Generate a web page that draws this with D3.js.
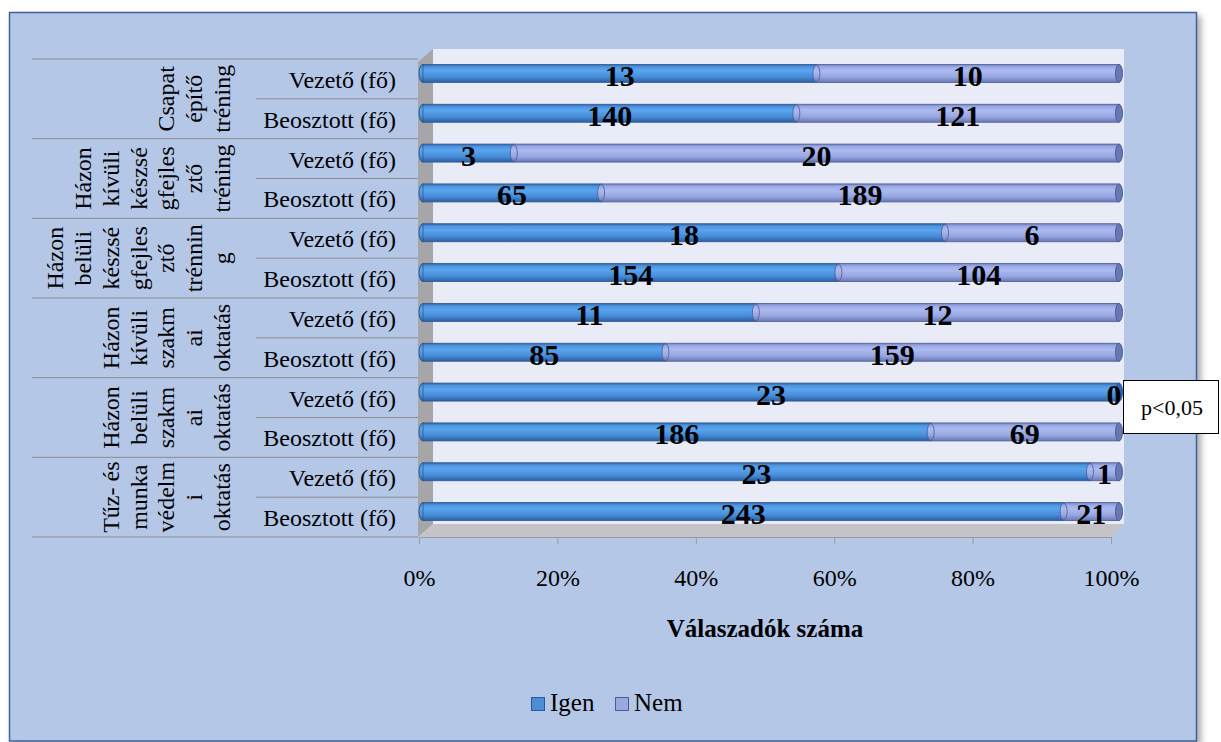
<!DOCTYPE html>
<html>
<head>
<meta charset="utf-8">
<script src="https://cdn.jsdelivr.net/npm/d3@7"></script>
<style>
  body { margin: 0; background: #fff; }
  svg text { font-family: "Liberation Serif", "Times New Roman", serif; fill: #000; }
</style>
</head>
<body>
<div id="chart"></div>
<script>
// categories (top to bottom), each wrapped the way the original shows them
const categories = [
    ["Csapat", "építő", "tréning"],
    ["Házon", "kívüli", "készsé", "gfejles", "ztő", "tréning"],
    ["Házon", "belüli", "készsé", "gfejles", "ztő", "trénnin", "g"],
    ["Házon", "kívüli", "szakm", "ai", "oktatás"],
    ["Házon", "belüli", "szakm", "ai", "oktatás"],
    ["Tűz- és", "munka", "védelm", "i", "oktatás"]
];
const groups = ["Vezető (fő)", "Beosztott (fő)"];

// values per category: [Vezető, Beosztott]
const igen = [[13, 140], [3, 65], [18, 154], [11, 85], [23, 186], [23, 243]];
const nem = [[10, 121], [20, 189], [6, 104], [12, 159], [0, 69], [1, 21]];

const ticks = [0, 0.2, 0.4, 0.6, 0.8, 1];
const seriesNames = ["Igen", "Nem"];

const W = 1221, H = 742;
const serif = "Liberation Serif, Times New Roman, serif";

// flatten to rows
const rows = [];
categories.forEach((c, ci) => {
    groups.forEach((g, gi) => {
        rows.push({ id: ci + "-" + gi, cat: ci, group: g, igen: igen[ci][gi], nem: nem[ci][gi] });
    });
});

const svg = d3.select("#chart").append("svg")
    .attr("width", W)
    .attr("height", H)
    .attr("font-family", serif);

const defs = svg.append("defs");
const shadow = defs.append("filter").attr("id", "shadow")
    .attr("x", "-5%").attr("y", "-5%").attr("width", "110%").attr("height", "110%");
shadow.append("feDropShadow")
    .attr("dx", 4).attr("dy", 4).attr("stdDeviation", 3)
    .attr("flood-color", "#777").attr("flood-opacity", 0.6);

function cylGrad(id, stops) {
    const gr = defs.append("linearGradient").attr("id", id)
        .attr("x1", 0).attr("y1", 0).attr("x2", 0).attr("y2", 1);
    stops.forEach(s => gr.append("stop").attr("offset", s[0]).attr("stop-color", s[1]));
}
cylGrad("gIgen", [[0, "#2f66ad"], [0.15, "#4f97e0"], [0.35, "#5aa5ee"], [0.7, "#478cd6"], [1, "#2b5ea3"]]);
cylGrad("gNem", [[0, "#7484c2"], [0.15, "#9cabe6"], [0.35, "#adbaf0"], [0.7, "#97a6e0"], [1, "#6777b3"]]);

const colors = { Igen: "url(#gIgen)", Nem: "url(#gNem)" };
const legendColors = { Igen: "#4a8fd6", Nem: "#9aaade" };
const strokes = { Igen: "#2d5893", Nem: "#4d5c96" };

// outer frame
svg.append("rect")
    .attr("x", 9.5).attr("y", 12.5)
    .attr("width", 1187).attr("height", 728.5)
    .attr("fill", "#b4c7e7")
    .attr("stroke", "#41629b")
    .attr("stroke-width", 1.5)
    .attr("filter", "url(#shadow)");

// scales
const x = d3.scaleLinear().domain([0, 1]).range([419, 1111]);
const xb = d3.scaleLinear().domain([0, 1]).range([423, 1119]);
const y = d3.scaleBand().domain(rows.map(d => d.id)).range([59, 537]);
const bh = 18;
const barY = d => y(d.id) + y.bandwidth() / 2 - 5.5;

// 3d plot box: back, wall, floor
svg.append("rect")
    .attr("x", 433).attr("y", 49)
    .attr("width", 691).attr("height", 475)
    .attr("fill", "#e9ebf6");
svg.append("path")
    .attr("d", "M418,62 L433,49 L433,524 L418,537 Z")
    .attr("fill", "#a6a6a8");
svg.append("path")
    .attr("d", "M418,537 L1111,537 L1124,524 L433,524 Z")
    .attr("fill", "#c3c3c8");

// X axis
const xAxis = svg.append("g")
    .attr("transform", "translate(0,537)")
    .call(d3.axisBottom(x).tickValues(ticks).tickSize(7).tickPadding(25)
        .tickFormat(d3.format(".0%")))
    .attr("font-family", serif)
    .attr("font-size", 24);
xAxis.select(".domain").attr("stroke", "#9a9a9a");
xAxis.selectAll(".tick line").attr("stroke", "#9a9a9a");
xAxis.selectAll(".tick text").attr("fill", "#000");

svg.append("text")
    .attr("x", 765).attr("y", 637)
    .attr("text-anchor", "middle")
    .attr("font-size", 25)
    .attr("font-weight", "bold")
    .text("Válaszadók száma");

// category label grid
const lbl = svg.append("g");
lbl.selectAll(".catline")
    .data(d3.range(categories.length + 1))
    .enter().append("line")
    .attr("x1", 32).attr("x2", 418)
    .attr("y1", i => i < categories.length ? y(i + "-0") : 537)
    .attr("y2", i => i < categories.length ? y(i + "-0") : 537)
    .attr("stroke", "#8c8c8c");
lbl.selectAll(".subline")
    .data(d3.range(categories.length))
    .enter().append("line")
    .attr("x1", 256).attr("x2", 418)
    .attr("y1", i => y(i + "-1"))
    .attr("y2", i => y(i + "-1"))
    .attr("stroke", "#8c8c8c");

lbl.selectAll(".grp")
    .data(rows)
    .enter().append("text")
    .attr("x", 396)
    .attr("y", d => y(d.id) + y.bandwidth() / 2 + 1)
    .attr("text-anchor", "end")
    .attr("dominant-baseline", "central")
    .attr("font-size", 24)
    .text(d => d.group);

// rotated category labels, last line anchored near x=222
categories.forEach((lines, ci) => {
    const cy = (y(ci + "-0") + y(ci + "-1") + y.bandwidth()) / 2;
    const n = lines.length;
    lines.forEach((t, li) => {
        const lx = 222 - (n - 1 - li) * 27.8;
        lbl.append("text")
            .attr("transform", `translate(${lx},${cy}) rotate(-90)`)
            .attr("text-anchor", "middle")
            .attr("dominant-baseline", "central")
            .attr("font-size", 24)
            .text(t);
    });
});

// bars
const bars = svg.append("g");
rows.forEach(d => {
    const tot = d.igen + d.nem;
    const p = d.igen / tot;
    const cy = barY(d);
    const x0 = xb(0), xm = xb(p), x1 = xb(1);
    const g = bars.append("g");

    // rounded start
    g.append("ellipse")
        .attr("cx", x0).attr("cy", cy).attr("rx", 4).attr("ry", bh / 2)
        .attr("fill", colors.Igen).attr("stroke", strokes.Igen);
    if (d.nem > 0) {
        g.append("rect")
            .attr("x", xm).attr("y", cy - bh / 2)
            .attr("width", x1 - xm).attr("height", bh)
            .attr("fill", colors.Nem).attr("stroke", strokes.Nem).attr("stroke-width", 0.8);
    }
    g.append("rect")
        .attr("x", x0).attr("y", cy - bh / 2)
        .attr("width", xm - x0).attr("height", bh)
        .attr("fill", colors.Igen).attr("stroke", strokes.Igen).attr("stroke-width", 0.8);
    if (d.nem > 0) {
        g.append("ellipse")
            .attr("cx", xm).attr("cy", cy).attr("rx", 3.5).attr("ry", bh / 2 - 0.5)
            .attr("fill", colors.Nem).attr("stroke", strokes.Nem).attr("stroke-width", 0.8);
    }
    // end cap
    g.append("ellipse")
        .attr("cx", x1).attr("cy", cy).attr("rx", 3.5).attr("ry", bh / 2)
        .attr("fill", d.nem > 0 ? "#6878b6" : "#2f67ae")
        .attr("stroke", d.nem > 0 ? strokes.Nem : strokes.Igen);

    // value labels
    g.append("text")
        .attr("x", (x0 + xm) / 2).attr("y", cy + 2)
        .attr("text-anchor", "middle").attr("dominant-baseline", "central")
        .attr("font-size", 30).attr("font-weight", "bold")
        .text(d.igen);
    g.append("text")
        .attr("x", (xm + x1) / 2 - (d.nem === 0 ? 5 : 0)).attr("y", cy + 2)
        .attr("text-anchor", "middle").attr("dominant-baseline", "central")
        .attr("font-size", 30).attr("font-weight", "bold")
        .text(d.nem);
});

// p box
svg.append("rect")
    .attr("x", 1123.5).attr("y", 380.5)
    .attr("width", 95).attr("height", 53)
    .attr("fill", "#fff").attr("stroke", "#000");
svg.append("text")
    .attr("x", 1172).attr("y", 407)
    .attr("text-anchor", "middle").attr("dominant-baseline", "central")
    .attr("font-size", 22)
    .text("p<0,05");

// legend
const legX = [531, 615];
const leg = svg.append("g");
seriesNames.forEach((s, i) => {
    leg.append("rect")
        .attr("x", legX[i] + 0.5).attr("y", 697.5)
        .attr("width", 13).attr("height", 13)
        .attr("fill", legendColors[s]).attr("stroke", strokes[s]);
    leg.append("text")
        .attr("x", legX[i] + 19).attr("y", 711)
        .attr("font-size", 25)
        .text(s);
});
</script>
</body>
</html>
